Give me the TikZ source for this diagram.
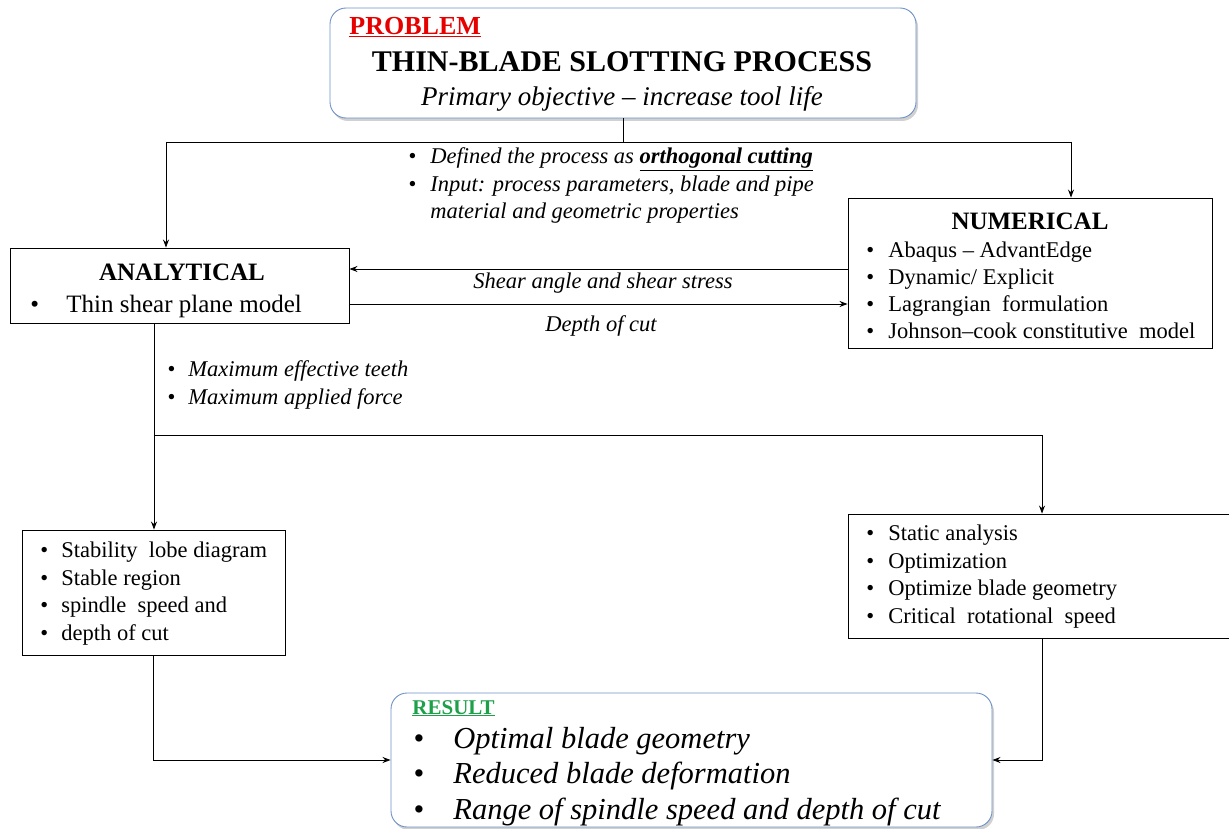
\documentclass[tikz,border=0pt]{standalone}
\usepackage{fontspec}
\setmainfont{Liberation Serif}
\usetikzlibrary{arrows.meta,shadows}

\definecolor{edgeblue}{RGB}{110,145,200}
\definecolor{tagred}{RGB}{230,0,0}
\definecolor{taggreen}{RGB}{30,160,75}
\newcommand{\fs}[2]{\fontsize{#1}{#2}\selectfont}
\newcommand{\bul}[1][22pt]{\makebox[#1][l]{\textbullet}}

\begin{document}
\begin{tikzpicture}[x=1pt,y=-1pt,>={Stealth[length=8pt,width=6pt]},line width=0.9pt,
  box/.style={draw,rectangle,inner sep=0pt},
  rbox/.style={draw=edgeblue,rectangle,rounded corners=16pt,fill=white,inner sep=0pt,
    drop shadow={shadow xshift=2pt,shadow yshift=-3pt,opacity=.3,fill=black!60}},
  txt/.style={anchor=base west,inner sep=0pt,align=left},
  ctr/.style={anchor=base,inner sep=0pt}]
  \useasboundingbox (0,0) rectangle (1229,829);
  % cajas
  \node[rbox,minimum width=586pt,minimum height=110pt] (prob) at (623,63) {};
  \node[box,minimum width=339pt,minimum height=75pt] (ana) at (179.5,285.5) {};
  \node[box,minimum width=364pt,minimum height=150pt] (num) at (1030,273) {};
  \node[box,minimum width=263pt,minimum height=125pt] (stab) at (153.5,592.5) {};
  \node[box,minimum width=382pt,minimum height=124pt] (stat) at (1039,576) {};
  \node[rbox,minimum width=601pt,minimum height=134pt] (res) at (691.5,760) {};
  % textos (base = ultima linea)
  \node[txt,font=\bfseries\fs{26}{30},text=tagred] (probtag) at (349,35) {\underline{PROBLEM}};
  \node[ctr,font=\bfseries\fs{30}{34}] (probtitle) at (622,72) {THIN-BLADE SLOTTING PROCESS};
  \node[ctr,font=\itshape\fs{27}{31}] (probsub) at (622,106) {Primary objective -- increase tool life};
  \node[ctr,font=\bfseries\fs{25}{30}] (anatitle) at (182,280) {ANALYTICAL};
  \node[txt,font=\fs{25}{30}] (anatext) at (30,312) {\bul[36pt]Thin shear plane model};
  \node[ctr,font=\bfseries\fs{25}{30}] (numtitle) at (1030,230) {NUMERICAL};
  \node[txt,font=\fs{22.5}{27}] (numtext) at (866,338) {\bul Abaqus -- AdvantEdge\\
    \bul Dynamic/ Explicit\\ \bul Lagrangian\ \ formulation\\ \bul Johnson--cook constitutive\ \ model};
  \node[txt,font=\fs{22.5}{27.5}] (stabtext) at (40,640) {\bul[21pt]Stability\ \ lobe diagram\\
    \bul[21pt]Stable region\\ \bul[21pt]spindle\ \ speed and\\ \bul[21pt]depth of cut};
  \node[txt,font=\fs{22.5}{27.5}] (stattext) at (866,623) {\bul Static analysis\\
    \bul Optimization\\ \bul Optimize blade geometry\\ \bul Critical\ \ rotational\ \ speed};
  \node[txt,font=\bfseries\fs{21}{24},text=taggreen] (restag) at (412,714) {\underline{RESULT}};
  \node[txt,font=\itshape\fs{30.5}{35.5}] (restext) at (413,819) {\bul[40pt]Optimal blade geometry\\
    \bul[40pt]Reduced blade deformation\\ \bul[40pt]Range of spindle speed and depth of cut};
  % conectores
  \coordinate (j0) at (623,142);
  \coordinate (jl) at (166,142);
  \coordinate (jr) at (1071,142);
  \coordinate (j1) at (154,435);
  \coordinate (j2) at (1042,435);
  \draw (prob.south) -- (j0);
  \draw (jl) -- (jr);
  \draw[->] (jl) -- (jl |- ana.north);
  \draw[->] (jr) -- (jr |- num.north);
  \node[txt,font=\itshape\fs{22.5}{27.5}] (inlbl) at (408,219) {\bul Defined the process as \textbf{\underline{orthogonal cutting}}\\
    \bul Input: process parameters, blade and pipe\\ \hspace*{22pt}material and geometric properties};
  \draw[->] ([yshift=16.5pt]num.west |- ana.east) -- ([yshift=16.5pt]ana.east);
  \node[ctr,font=\itshape\fs{22.5}{25}] (shearlbl) at (603,288) {Shear angle and shear stress};
  \draw[->] ([yshift=-18.5pt]ana.east) -- ([yshift=-18.5pt]ana.east -| num.west);
  \node[ctr,font=\itshape\fs{22.5}{25}] (depthlbl) at (601,331) {Depth of cut};
  \draw (j1 |- ana.south) -- (j1);
  \draw[->] (j1) -- (j1 |- stab.north);
  \draw (j1) -- (j2);
  \draw[->] (j2) -- (j2 |- stat.north);
  \node[txt,font=\itshape\fs{22.5}{28}] (maxlbl) at (167,404) {\bul[21pt]Maximum effective teeth\\
    \bul[21pt]Maximum applied force};
  \draw[->] (stab.south) |- (res.west);
  \draw[->] (j2 |- stat.south) |- (res.east);
\end{tikzpicture}
\end{document}
